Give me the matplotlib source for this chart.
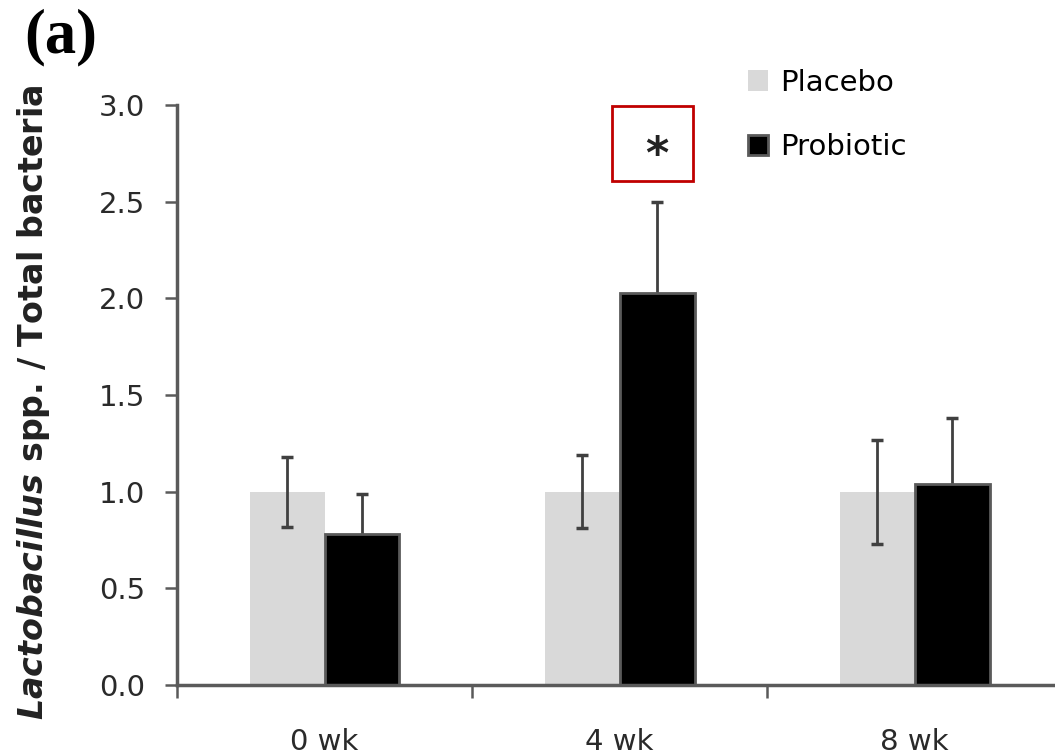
import matplotlib
matplotlib.use('Agg')
from matplotlib import pyplot as plt
from matplotlib.patches import Rectangle
import numpy as np

weeks = ['0 wk', '4 wk', '8 wk']
placebo = [1.00, 1.00, 1.00]
placebo_err = [0.18, 0.19, 0.27]
probiotic = [0.78, 2.03, 1.04]
probiotic_err = [0.21, 0.47, 0.34]
series_names = ['Placebo', 'Probiotic']
yticks = [0.0, 0.5, 1.0, 1.5, 2.0, 2.5, 3.0]

axis_gray = '#5a5a5a'
err_gray = '#404040'

fig = plt.figure(figsize=(10.55, 7.54), dpi=100)
ax = fig.add_axes([0.1678, 0.0915, 0.839, 0.769])

centers = np.arange(len(weeks)) + 0.5
w = 0.254
ax.bar(centers - w/2, placebo, w, color='#d9d9d9', edgecolor='none',
       label=series_names[0], zorder=2)
ax.errorbar(centers - w/2, placebo, yerr=placebo_err, fmt='none', ecolor=err_gray,
            elinewidth=2, capsize=4, capthick=2.5, zorder=3)
ax.errorbar(centers + w/2, probiotic, yerr=probiotic_err, fmt='none', ecolor=err_gray,
            elinewidth=2, capsize=4, capthick=2.5, zorder=1)
ax.bar(centers + w/2, probiotic, w, color='black', edgecolor=axis_gray, linewidth=2,
       label=series_names[1], zorder=2)

ax.set_xlim(0, 3)
ax.set_ylim(0, 3)
for s in ['top', 'right']:
    ax.spines[s].set_visible(False)
for s in ['left', 'bottom']:
    ax.spines[s].set_color(axis_gray)
    ax.spines[s].set_linewidth(2.5)

ax.set_yticks(yticks)
ax.set_yticklabels(['%.1f' % v for v in yticks])
ax.tick_params(axis='y', length=9, width=1.8, color=axis_gray, pad=14,
               labelsize=21, labelcolor='#2a2a2a')
ax.set_xticks([0, 1, 2, 3])
ax.set_xticklabels([])
ax.tick_params(axis='x', which='major', length=9, width=1.8, color=axis_gray)
ax.set_xticks(centers, minor=True)
ax.set_xticklabels(weeks, minor=True)
ax.tick_params(axis='x', which='minor', length=0, pad=31, labelsize=21,
               labelcolor='#2a2a2a')

ax.set_ylabel(r'$\mathbfit{Lactobacillus}$' + ' spp. / Total bacteria',
              fontsize=24, fontweight='bold', color='#222222')
ax.yaxis.set_label_coords(-0.141, 0.488)

# significance box
ax.add_patch(Rectangle((1.475, 2.607), 0.274, 0.388, fill=False,
                       edgecolor='#c00000', linewidth=2, clip_on=False, zorder=4))
ax.text(1.627, 2.74, '*', fontsize=32, fontweight='bold', ha='center', va='center',
        color='#222222')

fig.legend(loc='upper left', bbox_to_anchor=(0.709, 0.909), frameon=False,
           fontsize=21, handlelength=0.7, handleheight=0.7, handletextpad=0.4,
           labelspacing=1.25, borderpad=0, borderaxespad=0)

fig.text(0.023, 0.95, '(a)', fontsize=45, fontweight='bold', family='Liberation Serif',
         va='center', ha='left')

fig.savefig('out.png', dpi=100)
